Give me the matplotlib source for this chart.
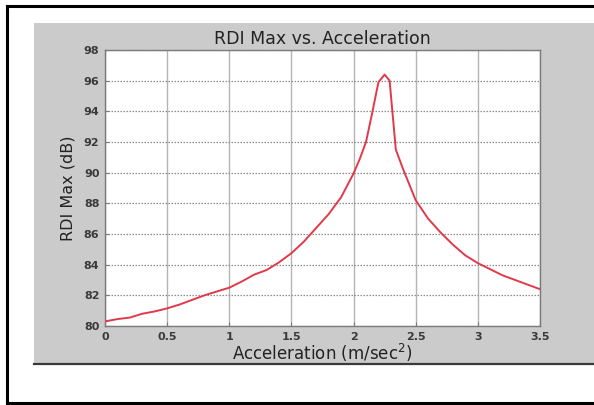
import matplotlib.pyplot as plt
from matplotlib.patches import Rectangle
from matplotlib.lines import Line2D

# RDI max level against acceleration
accel = [0.0, 0.1, 0.2, 0.3, 0.4, 0.5, 0.6, 0.7, 0.8, 0.9,
         1.0, 1.1, 1.2, 1.3, 1.4, 1.5, 1.6, 1.7, 1.8, 1.9,
         2.0, 2.05, 2.1, 2.15, 2.2, 2.25, 2.29, 2.34, 2.4, 2.5,
         2.6, 2.7, 2.8, 2.9, 3.0, 3.1, 3.2, 3.3, 3.4, 3.5]
rdi_max = [80.3, 80.45, 80.55, 80.8, 80.95, 81.15, 81.4, 81.7, 82.0, 82.25,
           82.5, 82.9, 83.35, 83.65, 84.15, 84.75, 85.5, 86.4, 87.3, 88.4,
           89.95, 90.9, 92.0, 93.9, 95.9, 96.4, 96.0, 91.5, 90.2, 88.2,
           87.0, 86.1, 85.3, 84.6, 84.1, 83.7, 83.3, 83.0, 82.7, 82.4]

xticks = [0, 0.5, 1, 1.5, 2, 2.5, 3, 3.5]
xtick_labels = ["0", "0.5", "1", "1.5", "2", "2.5", "3", "3.5"]
yticks = list(range(80, 100, 2))

plt.rcParams["font.family"] = ["DejaVu Sans"]

W, H = 594, 405
fig = plt.figure(figsize=(W / 100, H / 100), dpi=100)
fig.patch.set_facecolor("white")

# outer black frame (open on the right)
fy_top, fy_bot, fx_left = 1 - 6 / H, 1 - 403 / H, 7 / W
for xs, ys in [([fx_left, 1], [fy_top, fy_top]),
               ([fx_left, 1], [fy_bot, fy_bot]),
               ([fx_left, fx_left], [fy_bot, fy_top])]:
    fig.add_artist(Line2D(xs, ys, color="black", lw=2.2,
                          transform=fig.transFigure))

# grey figure panel with dark bottom edge
gx, gy = 34 / W, 1 - 364 / H
fig.add_artist(Rectangle((gx, gy), 1 - gx, (364 - 23) / H,
                         facecolor="#cbcbcb", edgecolor="none",
                         transform=fig.transFigure, zorder=0))
fig.add_artist(Line2D([gx, 1], [gy, gy], color="#3a3a3a", lw=1.6,
                      transform=fig.transFigure))

ax = fig.add_axes([105 / W, 1 - 326 / H, 435 / W, 276 / H])
ax.set_facecolor("white")
ax.plot(accel, rdi_max, color="#e03a4a", lw=1.4, zorder=3)

ax.set_xlim(0, 3.5)
ax.set_ylim(80, 98)
ax.set_xticks(xticks)
ax.set_xticklabels(xtick_labels)
ax.set_yticks(yticks)

ax.xaxis.grid(True, color="#b4b4b4", lw=1.0, ls="-")
ax.yaxis.grid(True, color="#8c8c8c", lw=0.9, ls=(0, (1.2, 1.2)))
ax.set_axisbelow(True)

for s in ax.spines.values():
    s.set_color("#7a7a7a")
    s.set_linewidth(1.0)

ax.tick_params(direction="in", length=3, color="#7a7a7a",
               labelsize=8, labelcolor="#3a3a3a", pad=4)
for lbl in ax.get_xticklabels() + ax.get_yticklabels():
    lbl.set_fontweight("bold")

ax.set_title("RDI Max vs. Acceleration", fontsize=12.5, color="#222222", pad=4)
ax.set_xlabel("Acceleration (m/sec$^2$)", fontsize=12, color="#222222", labelpad=0)
ax.set_ylabel("RDI Max (dB)", fontsize=11.5, color="#222222", labelpad=6)

fig.savefig("out.png", dpi=100)
